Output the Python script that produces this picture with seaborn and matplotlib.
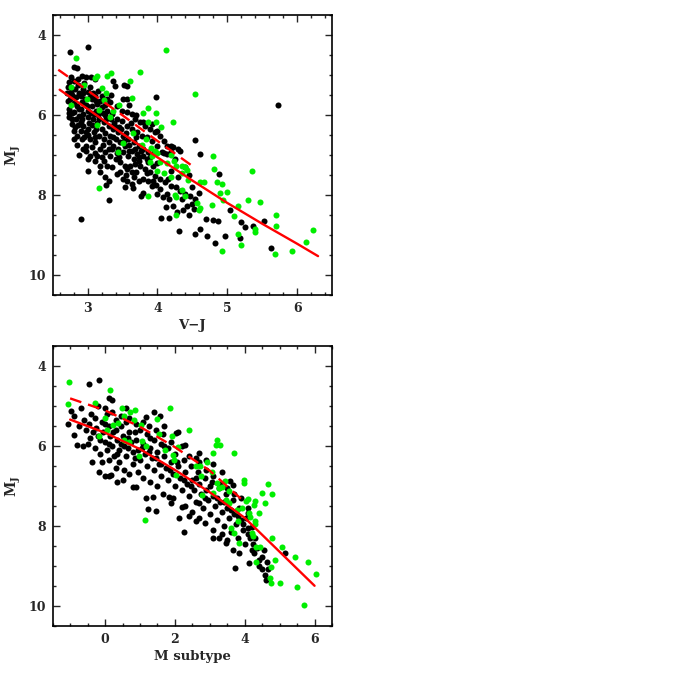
import matplotlib
matplotlib.use("Agg")
import matplotlib.pyplot as plt
from matplotlib.ticker import MultipleLocator
import seaborn as sns
import pandas as pd

# ---- Data ----
# top panel: V-J vs M_J
top_black = [
    (2.75, 4.43), (3.0, 4.31), (2.81, 4.81), (2.85, 4.83), (2.92, 5.02), (2.98, 5.05), (3.05, 5.05),
    (3.1, 5.1), (3.36, 5.14), (3.39, 5.28), (3.52, 5.25), (3.57, 5.28), (3.98, 5.54), (5.73, 5.74),
    (2.9, 8.6), (3.31, 8.12), (3.0, 7.39), (2.88, 6.99), (2.97, 6.89), (3.18, 7.27), (3.27, 7.75),
    (3.3, 7.64), (3.53, 7.79), (3.65, 7.83), (3.77, 8.02), (3.8, 7.96), (3.94, 7.64), (3.99, 7.98),
    (4.08, 8.06), (4.05, 8.58), (4.17, 8.58), (4.31, 8.91), (4.54, 8.98), (4.61, 8.85), (4.71, 9.02),
    (4.8, 8.63), (4.87, 8.64), (4.82, 9.21), (4.97, 9.02), (4.88, 7.48), (4.61, 6.98), (4.54, 6.63),
    (4.32, 6.89), (4.19, 6.77), (5.04, 8.38), (5.19, 8.67), (5.18, 9.08), (5.26, 8.79), (5.37, 8.77),
    (5.52, 8.66), (5.62, 9.33), (4.35, 8.1), (4.42, 8.27), (4.49, 8.23), (4.53, 8.35), (4.37, 8.38),
    (4.28, 8.43), (4.23, 8.27), (4.16, 8.1), (4.13, 7.98), (4.04, 7.85), (3.92, 7.77), (3.87, 7.64),
    (3.8, 7.6), (3.73, 7.64), (3.7, 7.43), (3.64, 7.43), (3.56, 7.35), (3.51, 7.6), (3.42, 7.48),
    (3.35, 7.31), (3.28, 7.27), (3.23, 7.14), (3.13, 7.02), (3.06, 6.81), (2.98, 6.77), (2.92, 6.6),
    (2.85, 6.52), (2.8, 6.39), (2.78, 6.22), (2.74, 6.06), (2.74, 5.85), (2.75, 5.6), (2.76, 5.43),
    (2.74, 5.18), (2.8, 5.14), (2.82, 5.35), (2.9, 5.52), (2.94, 5.35), (3.01, 5.43), (3.06, 5.6),
    (3.1, 5.52), (3.15, 5.39), (3.2, 5.52), (3.28, 5.6), (3.32, 5.68), (3.42, 5.77), (3.49, 5.89),
    (3.56, 5.93), (3.63, 5.98), (3.68, 6.1), (3.75, 6.18), (3.82, 6.27), (3.9, 6.35), (3.97, 6.43),
    (4.04, 6.52), (4.09, 6.64), (4.13, 6.77), (4.2, 6.93), (4.13, 6.98), (4.06, 6.93), (4.0, 6.77),
    (3.92, 6.64), (3.85, 6.56), (3.78, 6.52), (3.71, 6.43), (3.64, 6.35), (3.56, 6.27), (3.49, 6.14),
    (3.42, 6.1), (3.35, 5.98), (3.28, 5.89), (3.2, 5.81), (3.13, 5.73), (3.06, 5.77), (2.99, 5.77),
    (2.92, 5.68), (2.85, 5.77), (2.81, 5.93), (2.88, 6.02), (2.94, 5.98), (3.01, 6.06), (3.09, 5.98),
    (3.16, 6.1), (3.23, 6.18), (3.3, 6.27), (3.37, 6.35), (3.44, 6.43), (3.51, 6.52), (3.58, 6.6),
    (3.66, 6.68), (3.73, 6.77), (3.8, 6.85), (3.87, 6.93), (3.8, 7.02), (3.73, 7.06), (3.66, 7.1),
    (3.58, 7.02), (3.51, 6.93), (3.44, 6.85), (3.37, 6.77), (3.3, 6.68), (3.23, 6.6), (3.16, 6.52),
    (3.09, 6.43), (3.01, 6.35), (2.94, 6.27), (2.9, 6.18), (2.97, 6.43), (3.04, 6.6), (3.11, 6.68),
    (3.18, 6.85), (3.25, 6.93), (3.32, 7.02), (3.4, 7.1), (3.47, 7.18), (3.54, 7.27), (3.61, 7.27),
    (3.68, 7.23), (3.75, 7.27), (3.82, 7.35), (3.9, 7.43), (3.97, 7.52), (4.04, 7.6), (4.11, 7.68),
    (4.19, 7.77), (4.26, 7.81), (4.33, 7.89), (4.4, 7.98), (4.47, 8.02), (4.54, 8.1), (3.47, 7.43),
    (3.56, 7.64), (3.63, 7.73), (3.94, 7.27), (3.87, 7.18), (3.71, 6.98), (3.64, 6.89), (3.32, 6.52),
    (3.4, 6.6), (3.47, 6.68), (3.54, 6.77), (3.04, 7.02), (3.11, 7.14), (3.18, 7.43), (3.25, 7.56),
    (4.3, 6.85), (4.23, 6.81), (3.56, 5.6), (3.8, 6.18), (3.92, 6.23), (4.0, 6.39), (4.1, 6.95),
    (4.25, 7.1), (4.4, 7.3), (4.45, 7.5), (4.3, 7.55), (4.2, 7.4), (4.0, 7.2), (4.5, 7.8), (4.6, 7.95),
    (4.45, 8.5), (4.7, 8.6), (2.72, 5.3), (2.78, 5.5), (2.8, 5.7), (2.86, 5.25), (2.88, 5.45),
    (2.9, 5.85), (2.96, 5.6), (3.0, 5.9), (3.04, 5.3), (3.08, 5.45), (3.12, 5.9), (3.14, 6.2),
    (3.2, 6.35), (3.25, 6.0), (3.18, 5.65), (2.84, 6.1), (2.78, 5.95), (2.82, 6.3), (2.9, 6.4),
    (2.95, 6.55), (3.0, 6.5), (3.06, 6.25), (3.1, 6.55), (3.22, 6.75), (3.3, 6.85), (3.36, 6.55),
    (3.45, 6.3), (3.55, 6.45), (3.6, 6.75), (3.7, 6.55), (3.76, 6.9), (3.85, 7.1), (3.95, 6.95),
    (2.76, 5.05), (2.86, 5.1), (2.95, 5.2), (3.25, 5.75), (3.38, 6.2), (3.62, 6.2), (3.7, 6.0),
    (3.1, 6.95), (3.0, 7.1), (2.93, 6.85), (3.2, 7.05), (3.45, 7.05), (3.55, 7.5), (3.66, 7.55),
    (3.85, 7.45), (3.98, 7.75), (4.15, 7.6), (4.12, 8.3), (3.34, 5.5), (3.5, 5.6), (3.6, 5.75),
    (2.7, 5.45), (2.72, 5.65), (2.73, 5.95), (2.77, 6.1), (2.83, 5.55), (2.87, 5.85), (2.93, 5.45),
    (2.97, 5.75), (3.03, 5.55), (3.05, 5.95), (3.12, 5.65), (3.15, 6.0), (3.22, 5.95), (3.27, 6.1),
    (3.33, 6.1), (3.4, 6.3), (3.48, 6.35), (3.52, 6.65), (3.6, 6.9), (3.68, 6.85), (3.74, 7.15),
    (3.9, 7.05), (2.86, 6.25), (2.92, 6.1), (3.02, 6.2), (3.08, 6.1), (3.12, 6.35), (3.25, 6.45),
    (3.35, 6.85), (3.42, 6.95), (2.8, 6.6), (2.85, 6.75),
]
top_green = [
    (2.84, 4.58), (2.76, 5.29), (2.76, 5.75), (2.99, 5.6), (2.95, 5.25), (3.10, 5.08), (3.14, 5.03),
    (3.28, 5.03), (3.33, 4.95), (3.21, 5.33), (3.26, 5.46), (3.17, 5.88), (3.13, 6.25), (3.24, 5.63),
    (3.32, 6.06), (3.37, 5.89), (3.45, 5.74), (3.61, 5.14), (3.75, 4.93), (3.64, 5.57), (3.80, 5.95),
    (3.86, 5.83), (3.87, 6.17), (3.98, 5.95), (3.98, 6.17), (4.05, 6.31), (4.12, 4.38), (4.23, 6.17),
    (4.54, 5.48), (3.65, 6.45), (3.78, 6.74), (3.83, 6.6), (3.43, 6.93), (3.5, 6.7), (3.91, 6.83),
    (3.96, 6.89), (4.0, 6.95), (3.92, 7.02), (4.04, 7.18), (3.90, 7.18), (4.13, 7.2), (4.2, 7.0),
    (4.24, 7.16), (4.26, 7.27), (4.35, 7.27), (4.40, 7.31), (4.42, 7.38), (3.99, 7.39), (4.09, 7.45),
    (4.2, 7.56), (4.35, 7.45), (4.44, 7.63), (4.35, 7.88), (4.25, 8.0), (4.26, 8.06), (4.39, 8.02),
    (3.86, 8.02), (3.16, 7.83), (4.26, 8.5), (4.57, 8.2), (4.61, 8.33), (4.59, 8.38), (4.61, 7.68),
    (4.66, 7.68), (4.8, 7.03), (4.81, 7.35), (4.85, 7.68), (4.92, 7.73), (4.9, 7.96), (4.99, 7.92),
    (4.94, 8.13), (4.78, 8.25), (5.1, 8.52), (5.15, 8.28), (5.3, 8.13), (5.36, 7.39), (5.47, 8.18),
    (5.15, 8.98), (5.2, 9.25), (4.93, 9.41), (5.40, 8.85), (5.40, 8.93), (5.7, 8.5), (5.7, 8.77),
    (5.69, 9.48), (5.92, 9.41), (6.13, 9.18), (6.23, 8.88),
]
top_fit_vj = [2.6, 3.0, 3.5, 4.0, 4.5, 5.0, 5.5, 6.0, 6.3]
top_fit_mj = [5.37, 5.85, 6.47, 7.06, 7.64, 8.2, 8.72, 9.22, 9.53]
top_dash_vj = [2.58, 3.0, 3.5, 4.0, 4.51]
top_dash_mj = [4.87, 5.39, 6.01, 6.65, 7.29]

# bottom panel: M subtype vs M_J
bot_black = [
    (-1.07, 5.45), (-0.97, 5.13), (-0.88, 5.26), (-0.9, 5.72), (-0.8, 5.98), (-0.64, 6.01),
    (-0.69, 5.05), (-0.47, 4.44), (-0.18, 4.34), (-0.37, 6.39), (-0.16, 6.64), (0.01, 6.75),
    (0.12, 6.76), (0.17, 6.72), (0.33, 6.91), (0.5, 6.86), (0.79, 7.04), (0.89, 7.02), (1.17, 7.31),
    (1.22, 7.58), (1.36, 7.28), (1.46, 7.64), (1.84, 7.29), (1.89, 7.43), (2.12, 7.81), (2.27, 8.15),
    (2.2, 7.52), (2.41, 7.75), (2.6, 7.89), (2.7, 7.43), (2.87, 7.94), (3.08, 8.1), (3.27, 8.31),
    (3.46, 8.44), (3.65, 8.61), (3.72, 9.05), (3.84, 8.69), (4.12, 8.94), (4.27, 8.69), (4.41, 8.86),
    (4.5, 8.77), (4.5, 9.09), (4.58, 9.22), (4.6, 9.36), (4.67, 9.09), (5.15, 8.69),
    (0.12, 4.81), (0.2, 4.85), (0.6, 5.05), (1.17, 5.28), (1.41, 5.16), (1.58, 5.26), (1.7, 5.49),
    (2.03, 5.68), (2.1, 5.66), (2.3, 5.97), (2.68, 6.18), (2.6, 6.3), (2.89, 6.36), (3.08, 6.45),
    (3.36, 6.64), (3.57, 6.89), (3.65, 6.98), (4.08, 7.69), (4.22, 8.02),
    (-0.75, 5.5), (-0.6, 5.35), (-0.55, 5.6), (-0.45, 5.45), (-0.42, 5.8), (-0.5, 5.95), (-0.3, 5.3),
    (-0.25, 5.55), (-0.2, 5.75), (-0.3, 6.05), (-0.15, 6.2), (-0.1, 5.4), (-0.05, 5.65), (0.0, 5.9),
    (0.05, 6.1), (-0.1, 6.4), (0.05, 5.2), (0.1, 5.5), (0.15, 5.75), (0.2, 6.0), (0.25, 6.25),
    (0.3, 5.35), (0.3, 5.6), (0.35, 5.85), (0.4, 6.1), (0.4, 6.4), (0.45, 5.5), (0.5, 5.75),
    (0.55, 6.0), (0.6, 6.25), (0.6, 5.4), (0.7, 5.65), (0.75, 5.9), (0.8, 6.15), (0.8, 6.45),
    (0.9, 5.85), (0.95, 6.1), (1.0, 6.35), (1.0, 5.6), (1.1, 5.95), (1.15, 6.2), (1.2, 6.5),
    (1.2, 5.7), (1.3, 6.05), (1.35, 6.3), (1.4, 6.6), (1.4, 5.85), (1.5, 6.15), (1.55, 6.45),
    (1.6, 6.75), (1.6, 5.95), (1.7, 6.25), (1.75, 6.55), (1.8, 6.85), (1.8, 6.05), (1.9, 6.4),
    (1.95, 6.7), (2.0, 7.0), (2.0, 6.2), (2.1, 6.5), (2.15, 6.8), (2.2, 7.1), (2.25, 6.35),
    (2.3, 6.65), (2.35, 6.95), (2.4, 7.25), (2.45, 6.5), (2.5, 6.85), (2.55, 7.1), (2.6, 7.4),
    (2.65, 6.65), (2.7, 6.95), (2.75, 7.2), (2.8, 7.55), (2.85, 6.8), (2.9, 7.1), (2.95, 7.35),
    (3.0, 7.7), (3.05, 6.9), (3.1, 7.25), (3.15, 7.5), (3.2, 7.85), (3.25, 7.05), (3.3, 7.4),
    (3.35, 7.65), (3.4, 8.0), (3.45, 7.2), (3.5, 7.55), (3.55, 7.8), (3.6, 8.15), (3.65, 7.35),
    (3.7, 7.7), (3.75, 7.95), (3.8, 8.3), (3.85, 7.55), (3.9, 7.85), (3.95, 8.1), (4.0, 8.45),
    (4.05, 7.8), (4.1, 8.05), (4.15, 8.3), (4.2, 8.6), (4.3, 8.3), (4.35, 8.55), (4.4, 9.0),
    (4.55, 8.6), (4.65, 8.9), (-0.4, 5.2), (-0.2, 5.0), (0.0, 5.05), (0.2, 5.15), (0.45, 5.25),
    (0.7, 5.3), (0.9, 5.45), (1.1, 5.4), (1.25, 5.5), (0.1, 6.35), (0.3, 6.55), (0.55, 6.6),
    (0.7, 6.7), (0.95, 6.65), (1.1, 6.8), (1.3, 6.9), (1.5, 7.0), (1.65, 7.2), (1.95, 7.3),
    (2.3, 7.5), (2.5, 7.65), (2.7, 7.8), (3.1, 8.3), (3.35, 8.2), (3.5, 8.35), (2.9, 6.6),
    (3.1, 6.75), (3.3, 6.95), (3.5, 7.05), (3.7, 7.2), (3.9, 7.3), (4.1, 7.55), (2.2, 6.0),
    (2.4, 6.25), (1.45, 5.6), (1.65, 5.7), (1.9, 5.9), (2.7, 6.4),
    (-0.35, 5.65), (-0.15, 5.85), (0.0, 5.45), (0.12, 5.95), (0.22, 5.65), (0.35, 6.2), (0.45, 5.95),
    (0.65, 5.8), (0.65, 6.05), (0.85, 5.65), (0.85, 6.3), (1.05, 6.05), (1.25, 6.15), (1.3, 5.8),
    (1.45, 6.3), (1.6, 6.45), (1.7, 6.0), (1.85, 6.6), (2.05, 6.4), (2.25, 6.85), (2.45, 7.0),
    (2.6, 6.8), (2.85, 7.3), (3.0, 7.0), (3.2, 7.3), (3.4, 7.4), (3.6, 7.6), (3.8, 7.75),
    (3.95, 7.95), (4.1, 8.2), (4.25, 8.45),
]
bot_green = [
    (-1.02, 4.40), (-1.07, 4.95), (-0.28, 4.92), (0.15, 4.59), (0.01, 5.31), (0.05, 5.61),
    (-0.18, 5.76), (0.22, 5.47), (0.36, 5.42), (0.49, 5.06), (0.55, 5.26), (0.72, 5.16), (0.86, 5.11),
    (0.84, 5.34), (0.68, 5.9), (0.55, 5.84), (1.03, 5.47), (1.06, 5.88), (0.98, 6.24), (1.17, 5.99),
    (1.14, 7.85), (1.49, 5.32), (1.55, 5.7), (1.71, 6.09), (1.86, 5.05), (1.92, 5.76), (1.95, 6.22),
    (1.98, 6.35), (2.10, 6.03), (2.03, 6.72), (2.39, 5.59), (2.6, 6.5), (2.71, 6.51), (2.76, 6.76),
    (2.79, 7.22), (2.93, 6.40), (3.06, 6.64), (3.08, 7.18), (3.1, 6.18), (3.17, 5.97), (3.22, 5.84),
    (3.29, 5.97), (3.22, 6.93), (3.27, 7.06), (3.36, 7.02), (3.44, 6.89), (3.55, 7.14), (3.68, 6.18),
    (3.46, 7.35), (3.55, 7.43), (3.6, 8.06), (3.70, 8.17), (3.77, 7.6), (3.82, 7.89), (3.84, 8.42),
    (3.93, 7.56), (3.98, 6.85), (3.98, 6.92), (4.03, 7.37), (4.10, 7.34), (4.12, 7.69), (4.15, 7.77),
    (4.20, 8.19), (4.24, 8.25), (4.28, 7.38), (4.27, 7.48), (4.29, 7.89), (4.30, 7.96), (4.31, 8.52),
    (4.33, 8.9), (4.41, 7.69), (4.43, 8.54), (4.50, 7.18), (4.58, 7.42), (4.68, 6.95), (4.77, 7.2),
    (4.74, 9.03), (4.72, 9.3), (4.74, 9.44), (4.79, 8.3), (4.87, 8.86), (5.0, 9.44), (5.08, 8.52),
    (5.44, 8.77), (5.49, 9.53), (5.71, 9.99), (5.82, 8.9), (6.04, 9.21),
]
bot_fit_sub = [-1.0, 0.0, 1.0, 2.0, 3.0, 4.0, 5.0, 6.0]
bot_fit_mj = [5.34, 5.67, 6.08, 6.6, 7.16, 7.8, 8.65, 9.5]
bot_dash_sub = [-1.0, 0.0, 1.0, 2.0, 3.0, 3.89]
bot_dash_mj = [4.81, 5.11, 5.52, 6.03, 6.62, 7.32]

GREEN = "#00ee00"
RED = "#ff0000"

sns.set_theme(style="ticks")
plt.rcParams["font.family"] = ["DejaVu Serif"]
plt.rcParams["mathtext.fontset"] = "dejavuserif"


def panel(ax, black, green, fx, fy, dx, dy, xlabel, xlim, xmajor, xminor):
    bk = pd.DataFrame(black, columns=["x", "y"])
    gr = pd.DataFrame(green, columns=["x", "y"])
    sns.scatterplot(data=bk, x="x", y="y", ax=ax, color="black", s=19, linewidth=0)
    sns.scatterplot(data=gr, x="x", y="y", ax=ax, color=GREEN, s=19, linewidth=0)
    sns.lineplot(x=fx, y=fy, ax=ax, color=RED, linewidth=1.7, sort=False)
    sns.lineplot(x=dx, y=dy, ax=ax, color=RED, linewidth=1.7, sort=False,
                 linestyle=(0, (5, 3)))
    ax.set_xlim(*xlim)
    ax.set_ylim(10.5, 3.5)
    ax.xaxis.set_major_locator(MultipleLocator(xmajor))
    ax.xaxis.set_minor_locator(MultipleLocator(xminor))
    ax.yaxis.set_major_locator(MultipleLocator(2))
    ax.yaxis.set_minor_locator(MultipleLocator(0.5))
    ax.tick_params(which="both", direction="in", top=True, right=True, width=1.0,
                   labelsize=9)
    ax.tick_params(which="major", length=5, pad=5)
    ax.tick_params(which="minor", length=2.5)
    for lab in ax.get_xticklabels() + ax.get_yticklabels():
        lab.set_fontweight("bold")
    for sp in ax.spines.values():
        sp.set_linewidth(1.2)
        sp.set_color("black")
    ax.set_xlabel(xlabel, fontsize=9.5, fontweight="bold", labelpad=3)
    ax.set_ylabel(r"$\mathbf{M_J}$", fontsize=10, labelpad=4)


fig = plt.figure(figsize=(6.78, 6.78), dpi=100)
ax1 = fig.add_axes([0.0777, 0.565, 0.412, 0.413])
ax2 = fig.add_axes([0.0777, 0.0771, 0.412, 0.4125])

panel(ax1, top_black, top_green, top_fit_vj, top_fit_mj, top_dash_vj, top_dash_mj,
      "V\u2212J", (2.5, 6.5), 1, 0.2)
panel(ax2, bot_black, bot_green, bot_fit_sub, bot_fit_mj, bot_dash_sub, bot_dash_mj,
      "M subtype", (-1.5, 6.5), 2, 0.5)

fig.savefig("out.png", dpi=100)
